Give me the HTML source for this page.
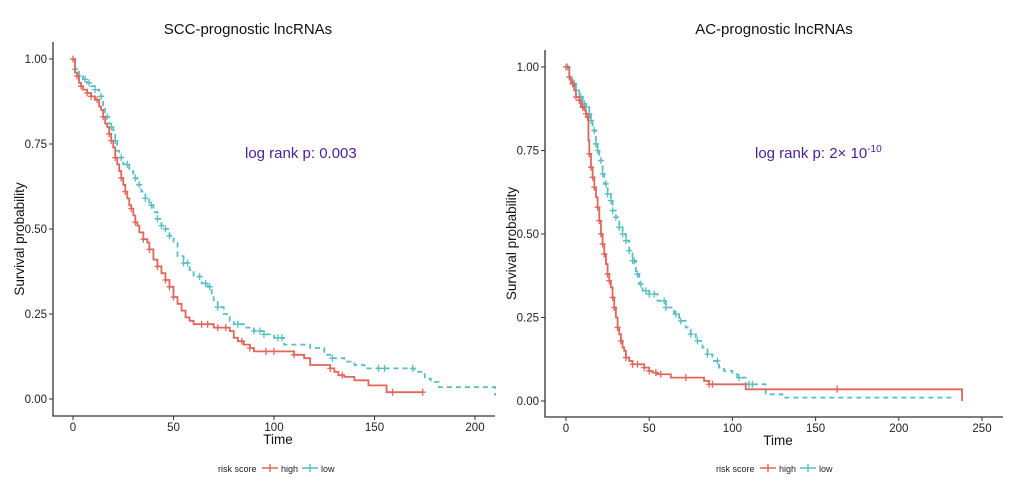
<!DOCTYPE html>
<html><head><meta charset="utf-8"><style>
body{margin:0;background:#fff;}
svg{display:block;font-family:"Liberation Sans",sans-serif;}
</style></head><body>
<svg id="c" width="1020" height="485" viewBox="0 0 1020 485"></svg>
<script>
// SCC panel data
const sccHighT=[0,1,2,3,4,5,7,9,11,13,14,15,16,17,18,19,20,21,22,23,24,25,26,27,28,29,30,31,32,33,35,37,38,40,42,44,46,48,50,52,54,56,58,60,70,78,80,82,85,88,90,110,115,118,128,130,132,135,140,147,156,174];
const sccHighS=[1,0.96,0.95,0.93,0.92,0.91,0.90,0.89,0.88,0.86,0.85,0.83,0.81,0.80,0.78,0.76,0.74,0.71,0.69,0.67,0.65,0.63,0.61,0.59,0.57,0.56,0.54,0.52,0.51,0.49,0.47,0.46,0.44,0.41,0.39,0.37,0.35,0.33,0.30,0.28,0.26,0.24,0.23,0.22,0.21,0.20,0.18,0.17,0.16,0.15,0.14,0.13,0.12,0.10,0.09,0.08,0.07,0.065,0.055,0.04,0.02,0.02];
const sccLowT=[0,1,3,5,7,9,11,13,15,16,18,19,20,21,22,23,25,28,30,32,34,36,38,40,42,44,46,48,50,52,55,58,60,64,67,69,70,72,75,78,80,85,90,95,100,105,118,125,128,135,140,145,170,175,178,182,208,210];
const sccLowS=[1,0.97,0.95,0.94,0.93,0.92,0.91,0.89,0.86,0.83,0.81,0.80,0.79,0.76,0.73,0.71,0.69,0.67,0.65,0.63,0.61,0.59,0.57,0.55,0.53,0.51,0.50,0.48,0.46,0.42,0.40,0.38,0.36,0.34,0.33,0.31,0.29,0.27,0.25,0.23,0.22,0.21,0.20,0.19,0.18,0.16,0.15,0.13,0.12,0.11,0.10,0.09,0.08,0.06,0.05,0.035,0.035,0.01];
const sccHighCens=[0,2,4,7,9,12,15,18,19,21,24,26,29,31,35,38,42,46,48,50,64,67,72,76,84,88,96,100,110,128,134,159,174];
const sccLowCens=[1,3,6,8,11,14,17,19,21,24,27,31,33,36,39,42,44,46,48,55,57,63,66,68,72,82,90,93,95,102,104,129,152,155,169];
// AC panel data
const acHighT=[0,2,3,5,6,8,9,11,12,13,13.5,14,15,16,17,18,19,20,21,22,23,24,25,26,27,28,29,30,31,32,33,34,35,36,38,40,47,50,52,55,63,83,86,108,238];
const acHighS=[1,0.97,0.95,0.93,0.91,0.90,0.88,0.87,0.86,0.85,0.78,0.74,0.70,0.67,0.64,0.61,0.58,0.54,0.50,0.47,0.44,0.41,0.38,0.36,0.34,0.31,0.28,0.25,0.22,0.20,0.18,0.16,0.15,0.13,0.12,0.11,0.10,0.09,0.085,0.08,0.07,0.06,0.05,0.035,0];
const acLowT=[0,2,4,6,8,10,12,14,15,16,18,19,20,22,23,25,27,28,30,32,34,36,38,40,42,44,46,50,55,60,65,68,72,75,78,82,85,88,92,95,100,103,108,120,130,233];
const acLowS=[1,0.97,0.95,0.93,0.91,0.89,0.88,0.86,0.84,0.81,0.77,0.75,0.72,0.68,0.65,0.62,0.60,0.57,0.55,0.52,0.50,0.48,0.45,0.42,0.38,0.35,0.33,0.32,0.30,0.28,0.26,0.24,0.22,0.20,0.18,0.16,0.14,0.12,0.10,0.09,0.08,0.07,0.05,0.02,0.01,0.01];
const acHighCens=[0,2,4,6,8,10,12,13,14,15,16,17,19,20,21,22,23,25,26,28,29,31,33,36,40,43,47,50,54,57,72,86,88,163];
const acLowCens=[1,2,4,5,6,8,9,10,11,12,14,15,17,18,19,21,22,24,25,27,28,30,32,34,36,38,40,41,43,45,48,50,53,59,60,66,69,75,79,85,91,104,110,112];
const yTicks=[0,0.25,0.5,0.75,1];
const yTickLabels=["0.00","0.25","0.50","0.75","1.00"];
const sccXTicks=[0,50,100,150,200];
const acXTicks=[0,50,100,150,200,250];

const RED="#E0665C", CYAN="#57BEC3";
const svg=document.getElementById('c');
const NS="http://www.w3.org/2000/svg";
function mk(tag,attrs,parent){const e=document.createElementNS(NS,tag);for(const k in attrs)e.setAttribute(k,attrs[k]);(parent||svg).appendChild(e);return e;}
function stepAt(T,S,t){let v=S[0];for(let i=0;i<T.length;i++){if(T[i]<=t)v=S[i];else break;}return v;}

function panel(p){
  const g=mk('g',{});
  
  
  const X=t=>p.x0+p.xs*t, Y=v=>p.y0-p.ys*v;
  const t=mk('text',{x:p.titleX,y:34,'font-size':15,'text-anchor':'middle',fill:'#111'},g);t.textContent=p.title;
  
  const ax=mk('path',{d:`M${p.axL},${p.axTop}V${p.axB}H${p.axR}`,stroke:'#333',fill:'none','stroke-width':1.3},g);
  
  yTicks.forEach((v,i)=>{
    mk('line',{x1:p.axL-4,x2:p.axL,y1:Y(v),y2:Y(v),stroke:'#333'},g);
    const l=mk('text',{x:p.axL-6,y:Y(v)+4,'font-size':11.5,'text-anchor':'end',fill:'#222'},g);l.textContent=yTickLabels[i];
    
  });
  p.xticks.forEach(v=>{
    mk('line',{x1:X(v),x2:X(v),y1:p.axB,y2:p.axB+4,stroke:'#333'},g);
    const l=mk('text',{x:X(v),y:p.axB+15,'font-size':11.5,'text-anchor':'middle',fill:'#222'},g);l.textContent=v;
    
  });
  const xt=mk('text',{x:(p.axL+p.axR)/2+4,y:p.axB+28,'font-size':13.5,'text-anchor':'middle',fill:'#111'},g);xt.textContent='Time';
  
  const yt=mk('text',{x:0,y:0,'font-size':13.5,'text-anchor':'middle',fill:'#111',transform:`translate(${p.axL-29},${(p.axTop+p.axB)/2+10}) rotate(-90)`},g);yt.textContent='Survival probability';
  
  function curve(T,S,C,col,dash,name){
    let d=`M${X(T[0])},${Y(S[0])}`;
    for(let i=1;i<T.length;i++){d+=`H${X(T[i])}V${Y(S[i])}`;}
    const pth=mk('path',{d,stroke:col,fill:'none','stroke-width':1.8,'stroke-dasharray':dash},g);
    
    C.forEach(c=>{
      const v=stepAt(T,S,c),cx=X(c),cy=Y(v);
      const m=mk('path',{d:`M${cx-3},${cy}h6M${cx},${cy-3.5}v7`,stroke:col,'stroke-width':1.3},g);
      
    });
  }
  curve(p.lowT,p.lowS,p.lowC,CYAN,'5,4','low-risk');
  curve(p.highT,p.highS,p.highC,RED,'','high-risk');
  const pv=mk('text',{x:p.pX,y:158,'font-size':15,fill:'#4B1E9A'},g);
  pv.innerHTML=p.pHTML;
  
  const lg=mk('g',{},g);
  const lx=p.legX;
  const lt=mk('text',{x:lx,y:472,'font-size':9,fill:'#222'},lg);lt.textContent='risk score';
  [[RED,'high',44],[CYAN,'low',84]].forEach(([c,n,o])=>{
    const e=mk('g',{},lg);
    mk('path',{d:`M${lx+o},${468}h16M${lx+o+8},464v8`,stroke:c,'stroke-width':1.4},e);
    const tx=mk('text',{x:lx+o+19,y:472,'font-size':9,fill:'#222'},e);tx.textContent=n;
  });
}
panel({name:'scc-panel',title:'SCC-prognostic lncRNAs',titleX:248,x0:73,xs:2.01,y0:399,ys:340,
  axL:53,axTop:42,axB:416,axR:495,xticks:sccXTicks,
  highT:sccHighT,highS:sccHighS,highC:sccHighCens,lowT:sccLowT,lowS:sccLowS,lowC:sccLowCens,
  pX:245,pHTML:'log rank p: 0.003',legX:218});
panel({name:'ac-panel',title:'AC-prognostic lncRNAs',titleX:774,x0:566,xs:1.664,y0:401,ys:334,
  axL:545,axTop:50,axB:417,axR:1003,xticks:acXTicks,
  highT:acHighT,highS:acHighS,highC:acHighCens,lowT:acLowT,lowS:acLowS,lowC:acLowCens,
  pX:755,pHTML:'log rank p: 2× 10<tspan dy="-6" font-size="10">-10</tspan>',legX:716});
</script>
</body></html>
